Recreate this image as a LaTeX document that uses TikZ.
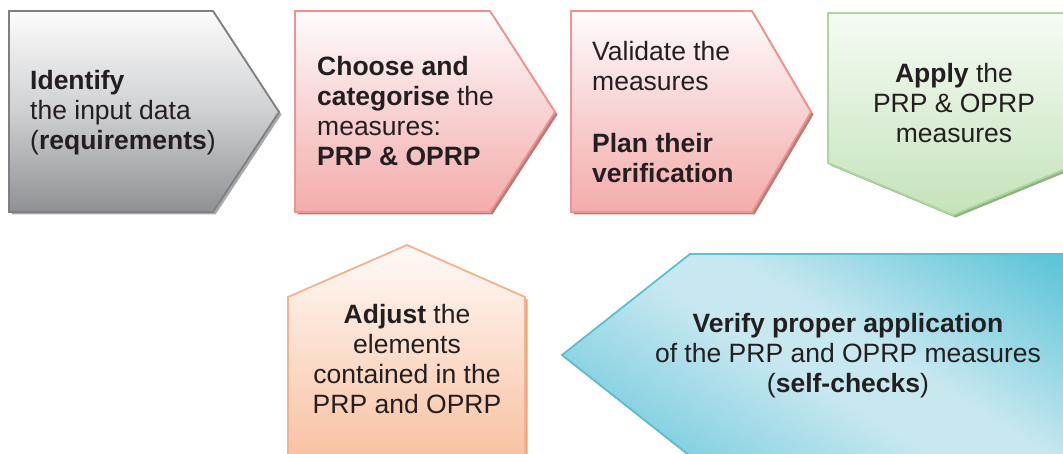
\documentclass[tikz,border=0pt]{standalone}
\usepackage{fontspec}
\setmainfont{Liberation Sans}
\usepackage{tikz}

\definecolor{ink}{HTML}{231F20}
\definecolor{greytop}{HTML}{FCFCFC}
\definecolor{greymid}{HTML}{CFD0D2}
\definecolor{greybot}{HTML}{8E9093}
\definecolor{greyline}{HTML}{7E7F81}
\definecolor{greyshadow}{HTML}{A9A9AA}
\definecolor{pinktop}{HTML}{FFFCFC}
\definecolor{pinkmid}{HTML}{F8D2D2}
\definecolor{pinkbot}{HTML}{F4ACAB}
\definecolor{pinkline}{HTML}{F09292}
\definecolor{pinkshadow}{HTML}{B07F78}
\definecolor{greentop}{HTML}{F6FBF4}
\definecolor{greenbot}{HTML}{C4E3BA}
\definecolor{greenline}{HTML}{A9D79C}
\definecolor{greenshadow}{HTML}{8DB283}
\definecolor{orangetop}{HTML}{FFFAF7}
\definecolor{orangebot}{HTML}{F8C1A1}
\definecolor{orangeline}{HTML}{F6B08B}
\definecolor{orangeshadow}{HTML}{E6A583}
\definecolor{cyanlight}{HTML}{C8E8F0}
\definecolor{cyanmid}{HTML}{7FCFE0}
\definecolor{cyandark}{HTML}{5FC5D8}
\definecolor{cyanline}{HTML}{57C0D5}
\definecolor{cyanshadow}{HTML}{8E9CA2}

\pgfdeclarehorizontalshading{cyanband}{100bp}{color(0bp)=(cyanmid); color(36bp)=(cyanmid);
  color(48bp)=(cyanlight); color(53bp)=(cyanlight); color(67bp)=(cyandark); color(100bp)=(cyandark)}

\tikzset{
  txt/.style={font=\fontsize{26.5}{30}\selectfont, inner sep=0pt, text=ink},
  edge/.style={line width=1.8pt, line join=miter},
}

\begin{document}
\begin{tikzpicture}[x=1pt,y=-1pt]
        \useasboundingbox (0,0) rectangle (1063,454);
        \clip (0,0) rectangle (1063,454);
        % top row: chevrons pointing right
        \foreach \l/\r/\t/\col in {9/213/279/grey,295/490/555/pink,571/752/811/pink}{
          \fill[\col shadow, shift={(2.5,2.5)}] (\l,11) -- (\r,11) -- (\t,112) -- (\r,212) -- (\l,212) -- cycle;
          \path[edge, draw=\col line, top color=\col top, bottom color=\col bot, middle color=\col mid]
            (\l,11) -- (\r,11) -- (\t,112) -- (\r,212) -- (\l,212) -- cycle;}
        % pointing down
        \fill[greenshadow, shift={(2.5,2.5)}] (828,13) -- (1080,13) -- (1080,163) -- (953,215) -- (828,163) -- cycle;
        \path[edge, draw=greenline, top color=greentop, bottom color=greenbot]
          (828,13) -- (1080,13) -- (1080,163) -- (953,215) -- (828,163) -- cycle;
        % pointing left
        \fill[cyanshadow, shift={(2,2.5)}] (1080,254) -- (690,254) -- (562,355) -- (690,456) -- (1080,456) -- cycle;
        \begin{scope}
          \clip (1080,254) -- (690,254) -- (562,355) -- (690,456) -- (1080,456) -- cycle;
          \shade[shading=cyanband, shading angle=58] (520,55) rectangle (1120,655);
        \end{scope}
        \draw[edge, cyanline] (1080,254) -- (690,254) -- (562,355) -- (690,456) -- (1080,456) -- cycle;
        % pointing up
        \fill[orangeshadow, shift={(2.5,2.5)}] (288,460) -- (288,297) -- (407,245) -- (525,297) -- (525,460) -- cycle;
        \path[edge, draw=orangeline, top color=orangetop, bottom color=orangebot]
          (288,460) -- (288,297) -- (407,245) -- (525,297) -- (525,460) -- cycle;
        % labels
        \node[txt, anchor=north west, align=left] (identify) at (30,70)
          {\textbf{Identify}\\the input data\\(\textbf{requirements})};
        \node[txt, anchor=north west, align=left] (choose) at (317,56)
          {\textbf{Choose and}\\\textbf{categorise} the\\measures:\\\textbf{PRP \& OPRP}};
        \node[txt, anchor=north west, align=left] (validate) at (592,41)
          {Validate the\\measures\\[32pt]\textbf{Plan their}\\\textbf{verification}};
        \node[txt, anchor=north, align=center] (apply) at (954,63)
          {\textbf{Apply} the\\PRP \& OPRP\\measures};
        \node[txt, anchor=north, align=center] (adjust) at (407,304)
          {\textbf{Adjust} the\\elements\\contained in the\\PRP and OPRP};
        \node[txt, anchor=north, align=center] (verify) at (848,313)
          {\textbf{Verify proper application}\\of the PRP and OPRP measures\\(\textbf{self-checks})};
      \end{tikzpicture}
\end{document}
